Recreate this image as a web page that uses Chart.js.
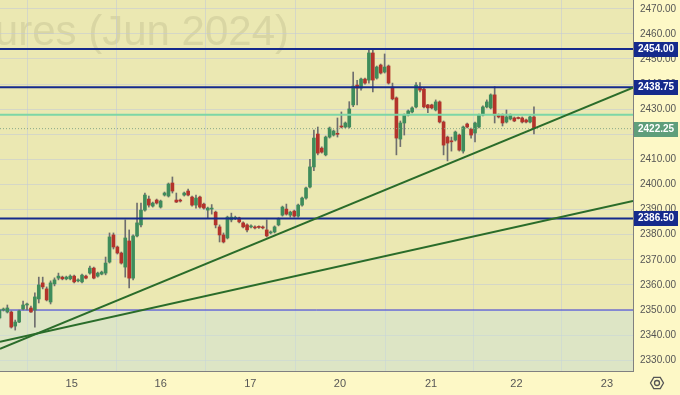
<!DOCTYPE html>
<html>
<head>
<meta charset="utf-8">
<script src="https://cdn.jsdelivr.net/npm/chart.js@4.4.1/dist/chart.umd.min.js"></script>
<style>
  html, body { margin: 0; padding: 0; background: #fdf8c6; }
  canvas { display: block; }
</style>
</head>
<body>
<canvas id="chart" width="680" height="395"></canvas>
<script>
// hourly candles (index = hour slot)
const opens = [
  2346.8, 2350.0, 2349.2, 2349.2, 2343.6, 2345.2, 2350.4, 2352.0, 2350.8, 2350.0,
  2354.4, 2360.8, 2358.4, 2353.2, 2360.4, 2362.7, 2363.1, 2362.4, 2362.4, 2363.5,
  2361.6, 2361.2, 2363.5, 2364.7, 2366.7, 2363.5, 2364.3, 2364.7, 2369.1, 2379.9,
  2375.1, 2372.7, 2367.1, 2377.5, 2362.7, 2379.5, 2383.9, 2389.8, 2394.2, 2391.4,
  2393.8, 2391.0, 2395.8, 2395.4, 2400.6, 2393.8, 2393.8, 2395.8, 2397.4, 2395.0,
  2391.8, 2395.0, 2392.2, 2389.8, 2390.2, 2389.0, 2383.1, 2379.9, 2378.7, 2385.9,
  2386.5, 2386.7, 2384.7, 2383.9, 2383.1, 2383.1, 2383.1, 2383.1, 2381.9, 2380.7,
  2381.1, 2383.9, 2387.8, 2390.2, 2387.8, 2389.4, 2387.4, 2391.8, 2394.6, 2399.0,
  2407.0, 2420.1, 2414.5, 2411.8, 2418.9, 2419.7, 2420.3, 2423.1, 2422.9, 2422.9,
  2431.7, 2439.6, 2438.4, 2442.0, 2441.6, 2452.4, 2442.4, 2447.6, 2444.8, 2447.2,
  2438.8, 2434.5, 2418.1, 2424.5, 2427.7, 2428.9, 2430.9, 2438.8, 2438.0, 2431.7,
  2431.7, 2429.7, 2432.9, 2424.9, 2418.9, 2417.3, 2417.7, 2419.7, 2413.3, 2424.1,
  2422.1, 2420.5, 2422.9, 2427.7, 2430.9, 2430.5, 2435.7, 2427.7, 2427.7, 2424.9,
  2426.1, 2426.5, 2426.5, 2426.5, 2425.7, 2424.9, 2426.9
];
const highs = [
  2350.4, 2350.8, 2352.0, 2349.6, 2346.0, 2350.0, 2353.6, 2352.8, 2351.6, 2356.8,
  2363.1, 2363.1, 2359.2, 2361.6, 2362.8, 2364.7, 2363.5, 2363.5, 2364.0, 2363.9,
  2362.4, 2364.3, 2363.9, 2367.5, 2367.1, 2365.1, 2365.5, 2371.1, 2380.7, 2380.7,
  2375.5, 2373.1, 2385.9, 2381.9, 2379.9, 2392.6, 2392.6, 2396.6, 2395.4, 2393.0,
  2394.2, 2393.8, 2397.0, 2400.6, 2403.0, 2396.6, 2394.2, 2397.0, 2398.2, 2395.4,
  2395.8, 2395.4, 2392.6, 2391.0, 2392.0, 2389.4, 2383.9, 2380.7, 2387.4, 2388.6,
  2387.4, 2387.0, 2385.1, 2384.3, 2383.9, 2383.5, 2383.5, 2383.5, 2385.9, 2381.5,
  2383.5, 2386.7, 2391.4, 2392.2, 2389.4, 2389.8, 2392.2, 2395.0, 2399.0, 2410.0,
  2421.7, 2422.9, 2415.0, 2419.3, 2422.9, 2421.7, 2426.5, 2428.9, 2424.9, 2433.0,
  2444.8, 2441.5, 2442.4, 2442.4, 2454.0, 2453.6, 2447.2, 2448.0, 2452.0, 2447.6,
  2440.4, 2434.9, 2425.3, 2428.1, 2429.7, 2430.9, 2440.6, 2440.6, 2438.4, 2431.9,
  2432.0, 2433.7, 2433.3, 2425.3, 2419.3, 2418.9, 2421.3, 2420.1, 2423.3, 2424.5,
  2422.5, 2424.9, 2428.1, 2431.3, 2433.7, 2436.1, 2439.0, 2428.1, 2428.1, 2429.7,
  2428.1, 2426.9, 2426.9, 2426.9, 2426.1, 2427.3, 2430.9
];
const lows = [
  2346.4, 2349.6, 2348.8, 2342.8, 2342.0, 2345.0, 2350.0, 2350.0, 2349.0, 2343.2,
  2352.8, 2358.4, 2353.6, 2352.4, 2359.6, 2362.0, 2362.0, 2362.0, 2362.0, 2360.8,
  2361.2, 2360.8, 2362.4, 2364.3, 2362.4, 2363.1, 2364.0, 2364.0, 2368.7, 2374.3,
  2372.3, 2368.3, 2363.1, 2358.8, 2362.0, 2379.1, 2383.1, 2389.4, 2391.0, 2391.0,
  2392.2, 2390.6, 2395.4, 2395.0, 2396.6, 2392.8, 2393.0, 2395.4, 2395.4, 2391.4,
  2390.6, 2390.6, 2390.2, 2386.7, 2388.2, 2382.7, 2377.1, 2376.7, 2378.3, 2385.1,
  2386.0, 2384.7, 2382.7, 2381.1, 2382.7, 2382.3, 2382.5, 2382.3, 2379.1, 2380.3,
  2380.7, 2383.5, 2387.4, 2387.8, 2387.0, 2387.0, 2387.0, 2391.4, 2394.2, 2398.6,
  2405.5, 2411.8, 2412.5, 2411.4, 2418.5, 2419.3, 2418.9, 2422.5, 2422.5, 2422.5,
  2431.0, 2431.7, 2437.6, 2440.0, 2440.4, 2436.9, 2442.0, 2444.0, 2444.4, 2440.0,
  2433.7, 2411.8, 2415.1, 2419.7, 2427.3, 2428.5, 2430.5, 2436.9, 2430.5, 2428.6,
  2430.1, 2429.3, 2424.5, 2411.8, 2409.4, 2413.3, 2417.3, 2413.3, 2412.5, 2422.5,
  2418.5, 2417.0, 2422.5, 2427.3, 2430.5, 2430.1, 2424.5, 2426.5, 2423.3, 2424.5,
  2425.7, 2425.0, 2426.1, 2424.5, 2424.5, 2424.5, 2420.1
];
const closes = [
  2350.0, 2350.2, 2350.8, 2343.2, 2345.2, 2349.6, 2352.0, 2352.2, 2349.2, 2355.2,
  2360.0, 2359.2, 2354.0, 2360.8, 2362.0, 2363.5, 2362.4, 2363.1, 2363.5, 2361.2,
  2362.0, 2363.9, 2362.7, 2366.7, 2362.7, 2364.7, 2365.1, 2368.7, 2379.1, 2375.1,
  2372.7, 2368.7, 2378.7, 2362.7, 2379.5, 2384.7, 2389.8, 2395.8, 2391.8, 2392.6,
  2392.6, 2393.4, 2396.6, 2400.2, 2397.4, 2393.0, 2393.4, 2396.6, 2395.8, 2391.8,
  2394.6, 2391.0, 2390.6, 2390.6, 2390.6, 2383.9, 2379.9, 2377.1, 2387.0, 2387.0,
  2386.9, 2385.1, 2383.1, 2381.9, 2383.5, 2382.7, 2382.9, 2382.7, 2379.5, 2381.1,
  2383.1, 2386.3, 2391.0, 2388.2, 2389.0, 2387.4, 2391.8, 2394.6, 2398.6, 2407.0,
  2418.5, 2412.5, 2412.9, 2418.9, 2422.5, 2421.3, 2420.0, 2422.9, 2424.5, 2430.1,
  2439.2, 2438.4, 2442.0, 2440.4, 2452.4, 2441.6, 2446.8, 2444.4, 2446.8, 2440.4,
  2434.1, 2418.5, 2424.5, 2427.7, 2429.3, 2430.5, 2439.6, 2437.6, 2430.9, 2430.5,
  2430.5, 2432.9, 2424.9, 2415.7, 2416.5, 2417.0, 2420.9, 2413.7, 2422.9, 2422.9,
  2419.7, 2424.5, 2427.7, 2430.9, 2432.9, 2435.7, 2427.7, 2426.9, 2424.5, 2426.9,
  2427.7, 2425.3, 2426.3, 2424.9, 2424.9, 2426.9, 2422.25
];

// axes
const dayTicks = [18.37, 41.02, 63.82, 86.64, 109.8, 131.55, 154.58];
const dayLabels = ['15', '16', '17', '20', '21', '22', '23'];
const priceTicks = [2330, 2340, 2350, 2360, 2370, 2380, 2390, 2400, 2410, 2420, 2430, 2440, 2450, 2460, 2470];
const xMin = 0.13, xMax = 161.2;
const yMin = 2325.7, yMax = 2473.5;

// drawn levels
const resistanceLevels = [2454.00, 2438.75, 2386.50];
const supportLevel = 2350;
const mintLevel = 2427.75;
const lastPrice = 2422.25;
const trendSteep = [[xMin, 2334.5], [xMax, 2438.6]];
const trendFlat = [[xMin, 2337.3], [xMax, 2393.4]];

const UP = '#3f8c5b', DOWN = '#b3332b', WICK = '#6e6e6e';
const NAVY = '#152a8c';
const FONT = '"Liberation Sans", Arial, sans-serif';

const idx = opens.map((_, i) => i);
const candleColor = idx.map(i => closes[i] >= opens[i] ? UP : DOWN);

function hline(v, color, width, dash) {
  return {
    type: 'line',
    data: [{ x: xMin, y: v }, { x: xMax, y: v }],
    borderColor: color, borderWidth: width, borderDash: dash || [],
    pointRadius: 0, order: 1
  };
}
function tline(pts) {
  return {
    type: 'line',
    data: pts.map(p => ({ x: p[0], y: p[1] })),
    borderColor: '#2a6c2a', borderWidth: 2, pointRadius: 0, order: 0
  };
}

const bgPlugin = {
  id: 'bg',
  beforeDraw(chart) {
    const { ctx, chartArea: a } = chart;
    ctx.save();
    ctx.fillStyle = '#fdf8c6';
    ctx.fillRect(0, 0, chart.width, chart.height);
    ctx.fillStyle = '#ebe8b2';
    ctx.fillRect(a.left, a.top, a.right - a.left, a.bottom - a.top);
    // watermark
    ctx.beginPath();
    ctx.rect(a.left, a.top, a.right - a.left, a.bottom - a.top);
    ctx.clip();
    ctx.font = '42px ' + FONT;
    ctx.fillStyle = '#d9d6a3';
    ctx.textAlign = 'right';
    ctx.textBaseline = 'alphabetic';
    ctx.fillText('Gold Futures (Jun 2024)', 289, 45);
    ctx.restore();
  }
};

const labelPlugin = {
  id: 'labels',
  afterDraw(chart) {
    const { ctx, chartArea: a } = chart;
    const y = chart.scales.y;
    ctx.save();
    ctx.font = 'bold 10px ' + FONT;
    ctx.textBaseline = 'middle';
    ctx.textAlign = 'left';
    const box = (v, bg) => {
      const py = Math.round(y.getPixelForValue(v));
      ctx.fillStyle = bg;
      ctx.fillRect(a.right + 1, py - 7, 44, 15);
      ctx.fillStyle = '#ffffff';
      ctx.fillText(v.toFixed(2), a.right + 5, py + 0.5);
    };
    resistanceLevels.forEach(v => box(v, NAVY));
    box(lastPrice, '#5f9e7b');
    // settings icon
    const cx = 657, cy = 383, r = 6.5;
    ctx.strokeStyle = '#555';
    ctx.lineWidth = 1.3;
    ctx.beginPath();
    for (let k = 0; k < 6; k++) {
      const ang = Math.PI / 3 * k;
      const px = cx + r * Math.cos(ang), pyy = cy + r * Math.sin(ang);
      if (k === 0) ctx.moveTo(px, pyy); else ctx.lineTo(px, pyy);
    }
    ctx.closePath();
    ctx.stroke();
    ctx.beginPath();
    ctx.arc(cx, cy, 2.5, 0, Math.PI * 2);
    ctx.stroke();
    ctx.restore();
  }
};

const ctx = document.getElementById('chart').getContext('2d');
new Chart(ctx, {
  type: 'bar',
  data: {
    datasets: [
      {
        type: 'line',
        data: [{ x: xMin, y: supportLevel }, { x: xMax, y: supportLevel }],
        borderColor: '#3434d8', borderWidth: 1, pointRadius: 0,
        fill: 'start', backgroundColor: 'rgba(205,227,220,0.45)', order: 5
      },
      {
        data: idx.map(i => ({ x: i, y: [lows[i], highs[i]] })),
        backgroundColor: idx.map(() => WICK),
        barThickness: 1, grouped: false, order: 4
      },
      {
        data: idx.map(i => ({ x: i, y: [opens[i], closes[i]] })),
        backgroundColor: candleColor,
        barThickness: 3, grouped: false, minBarLength: 1, order: 3
      },
      hline(mintLevel, '#7dd6a6', 2),
      hline(lastPrice, '#8aa88a', 1, [1, 2]),
      ...resistanceLevels.map(v => hline(v, NAVY, 2)),
      tline(trendSteep),
      tline(trendFlat)
    ]
  },
  options: {
    responsive: false,
    animation: false,
    layout: { padding: 0 },
    plugins: { legend: { display: false }, tooltip: { enabled: false } },
    scales: {
      x: {
        type: 'linear', min: xMin, max: xMax, offset: false,
        afterFit(s) { s.height = 24; s.paddingLeft = 0; s.paddingRight = 0; },
        afterBuildTicks(s) { s.ticks = dayTicks.map(v => ({ value: v })); },
        ticks: {
          callback: (v, i) => dayLabels[i],
          color: '#555', font: { size: 11, family: FONT },
          maxRotation: 0, autoSkip: false, padding: 6
        },
        grid: { color: 'rgba(195,200,215,0.55)', tickLength: 0 },
        border: { color: '#808080' }
      },
      y: {
        position: 'right', min: yMin, max: yMax,
        afterFit(s) { s.width = 47; s.paddingTop = 0; s.paddingBottom = 0; },
        afterBuildTicks(s) { s.ticks = priceTicks.map(v => ({ value: v })); },
        ticks: {
          callback: v => v.toFixed(2),
          color: '#555', font: { size: 10, family: FONT },
          padding: 7
        },
        grid: { color: 'rgba(195,200,215,0.55)', tickLength: 0 },
        border: { color: '#808080' }
      }
    }
  },
  plugins: [bgPlugin, labelPlugin]
});
</script>
</body>
</html>
